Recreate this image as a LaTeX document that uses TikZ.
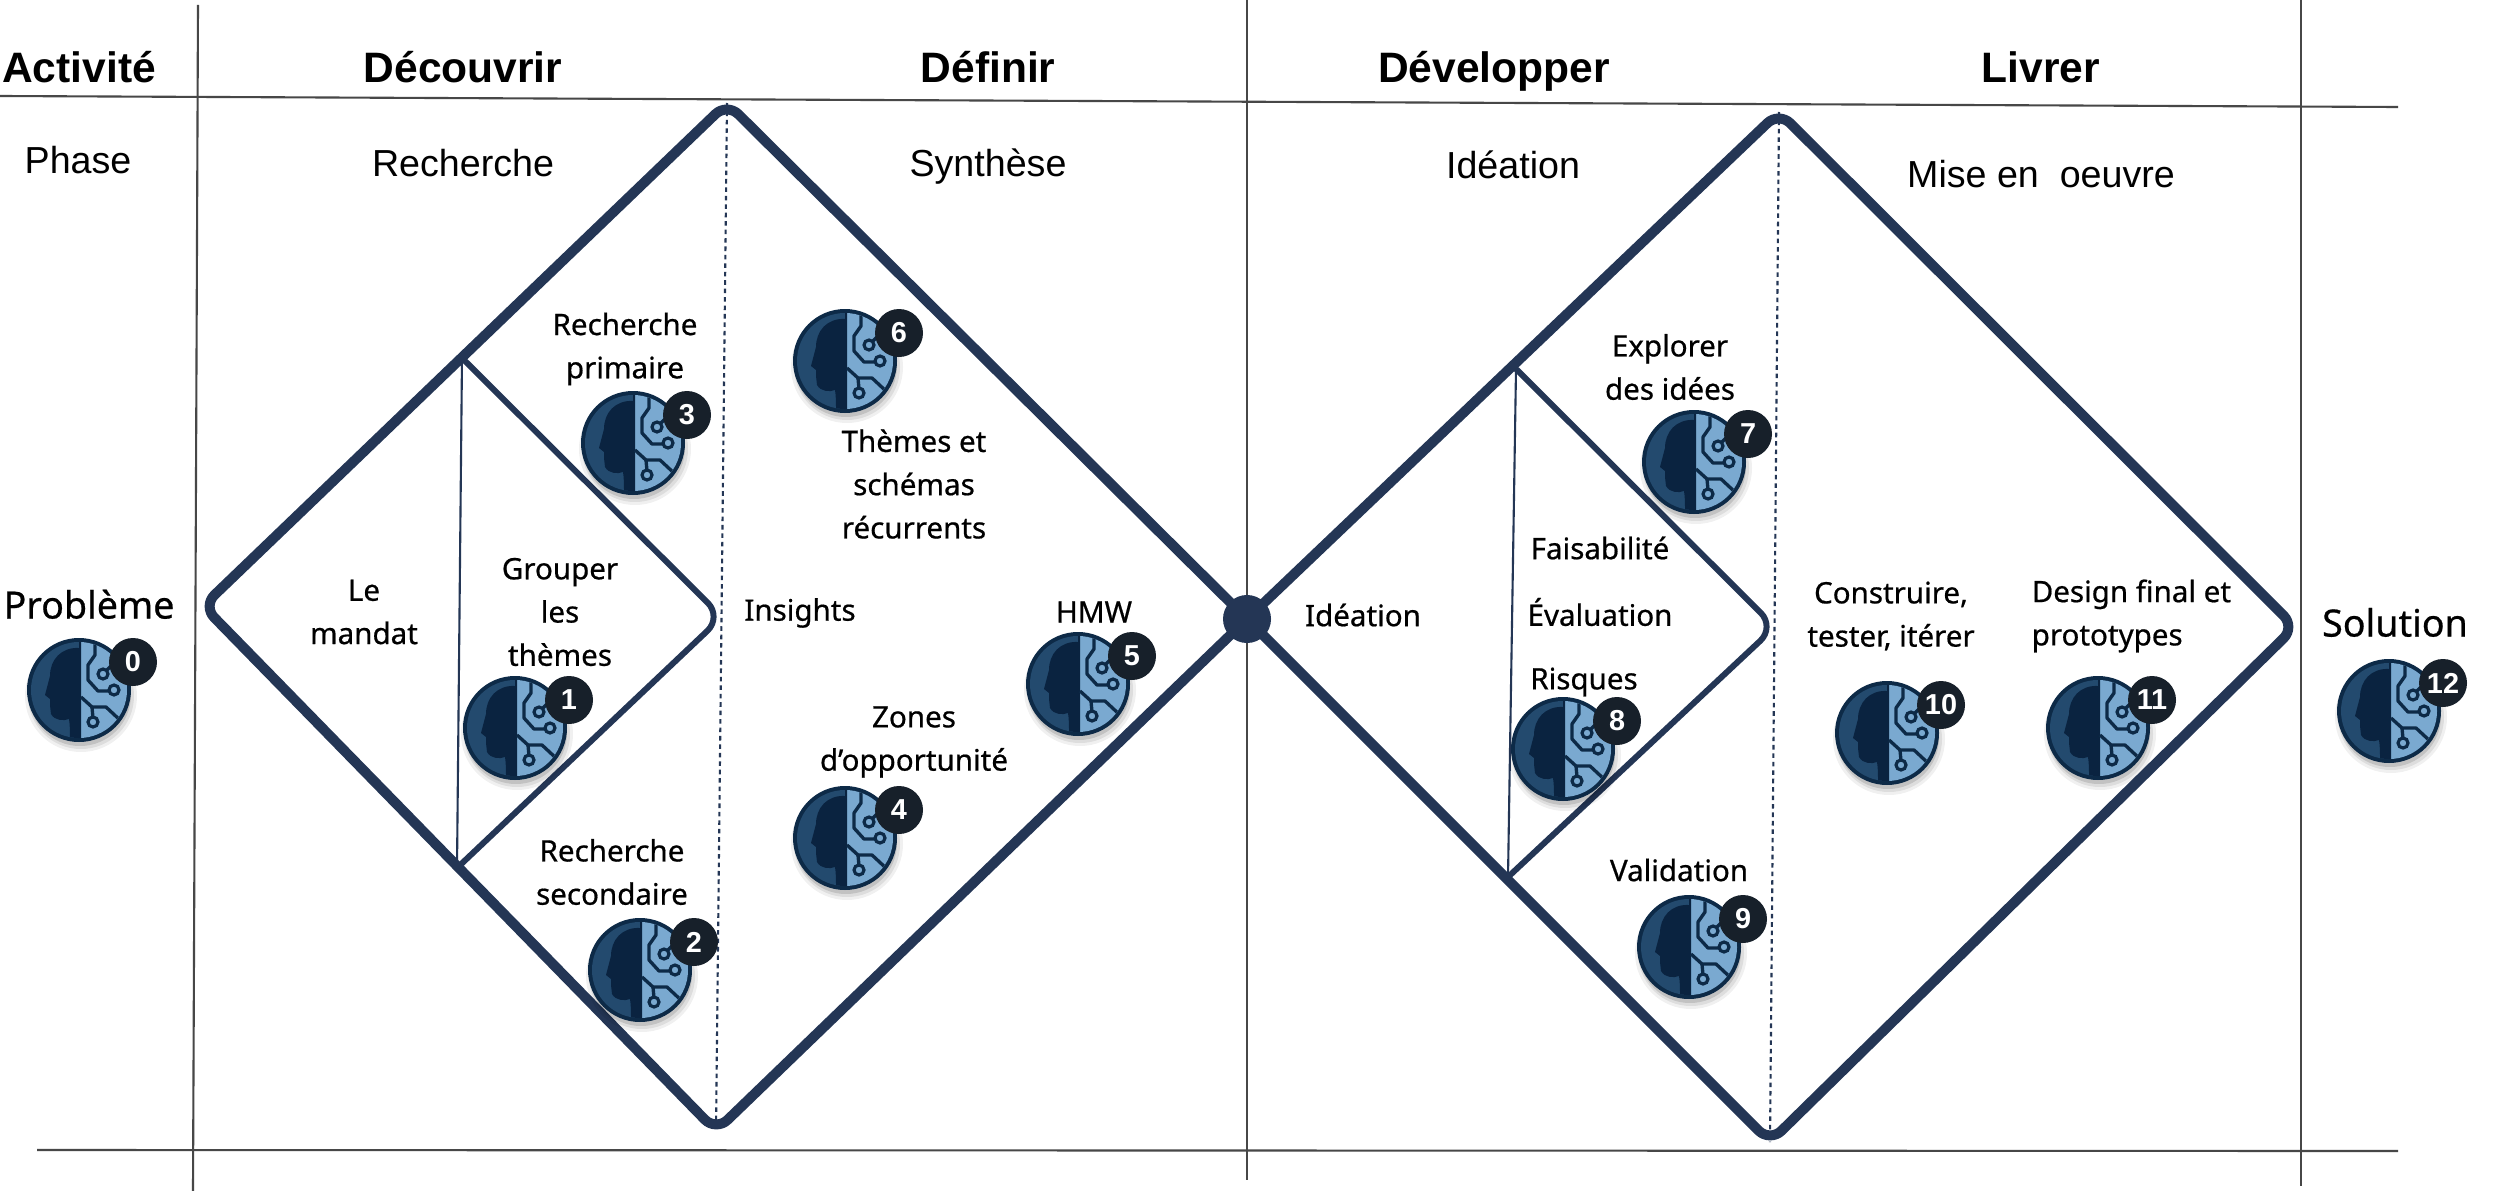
\documentclass[tikz,border=0pt]{standalone}
\usepackage{fontspec}
\setmainfont{Noto Sans}
\newfontfamily\medfont[FakeBold=0.6]{Noto Sans}
\newfontfamily\headfont{Liberation Sans}
\definecolor{navy}{HTML}{243655}
\definecolor{inkdark}{HTML}{0D2A47}
\definecolor{facedark}{HTML}{0A2340}
\definecolor{faceback}{HTML}{234A6E}
\definecolor{chip}{HTML}{7AA9D0}
\definecolor{badge}{HTML}{17202A}
\tikzset{
  x=0.01cm,y=-0.01cm,
  gridline/.style={draw=black!72,line width=0.6pt},
  outer/.style={draw=navy,line width=2.85pt,rounded corners=0.16cm,line join=round},
  inner/.style={draw=navy,line width=1.7pt,rounded corners=0.2cm,line join=round},
  thin line/.style={draw=navy,line width=0.6pt},
  dots/.style={draw=navy,line width=0.6pt,dash pattern=on 1.3pt off 1.1pt},
  head/.style={font=\headfont\fontsize{12.1}{14}\selectfont\bfseries,inner sep=0pt,text height=8.7pt,text depth=0pt},
  phase/.style={font=\headfont\fontsize{10.7}{12}\selectfont,inner sep=0pt,text height=7.5pt,text depth=0pt},
  big/.style={font=\medfont\fontsize{10.7}{12}\selectfont,inner sep=0pt,text height=7.7pt,text depth=0pt},
  body/.style={font=\medfont\fontsize{8.4}{12.3}\selectfont,inner sep=0pt,align=center},
  aiicon/.pic={
    \fill[black,opacity=.06] (2,6) circle [radius=56];
    \fill[black,opacity=.08] (2,6) circle [radius=53];
    \fill[black,opacity=.12] (1,5) circle [radius=51];
    \fill[inkdark] (0,0) circle [radius=52];
    \begin{scope}
      \clip (0,0) circle [radius=48];
      \fill[faceback] (-50,-50) rectangle (0,50);
      \fill[chip] (2,-50) rectangle (50,50);
      \fill[facedark] (0,-50) -- (0,-42) .. controls (-18,-43) and (-29,-30) .. (-29,-14)
        -- (-34,5) -- (-29,9) -- (-29,15) -- (-28,24) .. controls (-24,31) and (-15,31) .. (-10,29)
        .. controls (-9,35) and (-9,42) .. (-9,50) -- (2,50) -- (2,-50) -- cycle;
      \draw[inkdark,line width=.95pt,line join=round]
        (16,-48) -- (16,-35) -- (9,-25) -- (9,-10) -- (19,1) -- (31,1);
      \draw[inkdark,line width=.95pt] (24,-16) -- (34,-26);
      \draw[inkdark,line width=.95pt,line join=round]
        (2,7) -- (13,17) -- (27,17) -- (42,31);
      \draw[inkdark,line width=.95pt] (13,17) -- (14,28);
      \draw[inkdark,line width=.9pt,fill=chip] (35,0) circle [radius=5];
      \draw[inkdark,line width=.9pt,fill=chip] (24,-16) circle [radius=5];
      \draw[inkdark,line width=.9pt,fill=chip] (14,32) circle [radius=5];
    \end{scope}
    \fill[badge] (54,-28) circle [radius=24];
    \node[text=white,font=\headfont\fontsize{8.2}{9}\selectfont\bfseries,inner sep=0pt] at (54,-28) {#1};
  },
}
\begin{document}
\begin{tikzpicture}
\useasboundingbox (0,0) rectangle (2500,1191);
\fill[white] (0,0) rectangle (2500,1191);

% grid
\coordinate (v1t) at (198,5); \coordinate (v1b) at (193,1191);
\coordinate (v2t) at (1247,0); \coordinate (v2b) at (1247,1180);
\coordinate (v3t) at (2301,0); \coordinate (v3b) at (2301,1186);
\coordinate (h1l) at (0,96); \coordinate (h1r) at (2398,107);
\coordinate (h2l) at (37,1150); \coordinate (h2r) at (2398,1151);
\draw[gridline] (v1t) -- (v1b);
\draw[gridline] (v2t) -- (v2b);
\draw[gridline] (v3t) -- (v3b);
\draw[gridline] (h1l) -- (h1r);
\draw[gridline] (h2l) -- (h2r);

% diamonds
\coordinate (c) at (1247,619);
\coordinate (lt) at (727,103); \coordinate (lb) at (716,1131); \coordinate (ll) at (203,606);
\coordinate (it) at (462,358); \coordinate (ir) at (722,617); \coordinate (ib) at (457,868);
\coordinate (rt) at (1779,112); \coordinate (rr) at (2295,627); \coordinate (rb) at (1770,1142);
\coordinate (jt) at (1516,369); \coordinate (jr) at (1775,627); \coordinate (jb) at (1508,877);
\draw[dots] (lt) -- (lb);
\draw[dots] (rt) -- (rb);
\draw[thin line] (it) -- (ib);
\draw[thin line] (jt) -- (jb);
\draw[outer] (c) -- (lt) -- (ll) -- (lb) -- cycle;
\draw[outer] (c) -- (rt) -- (rr) -- (rb) -- cycle;
\draw[inner] (it) -- (ir) -- (ib);
\draw[inner] (jt) -- (jr) -- (jb);
\node[circle,fill=navy,minimum size=0.48cm,inner sep=0pt] (hub) at (c) {};

% headers
\node[head] (hA) at (79,67) {Activité};
\node[head] (hB) at (463,67) {Découvrir};
\node[head] (hC) at (988,67) {Définir};
\node[head] (hD) at (1494,67) {Développer};
\node[head] (hE) at (2041,67) {Livrer};
\node[phase] (pA) at (78,160) {Phase};
\node[phase] (pB) at (463,163) {Recherche};
\node[phase] (pC) at (988,163) {Synthèse};
\node[phase] (pD) at (1513,165) {Idéation};
\node[phase] (pE) at (2041,174) {Mise en \ oeuvre};
\node[big] (prob) at (89,605) {Problème};
\node[big] (sol) at (2395,623) {Solution};

% labels
\node[body] (t1) at (364,612) {Le\\mandat};
\node[body] (t2) at (560,612) {Grouper\\les\\thèmes};
\node[body] (t3) at (625,349) {Recherche\\primaire};
\node[body] (t4) at (612,872) {Recherche\\secondaire};
\node[body] (t5) at (800,613) {Insights};
\node[body] (t6) at (914,484) {Thèmes et\\schémas\\récurrents};
\node[body] (t7) at (1094,612) {HMW};
\node[body] (t8) at (914,742) {Zones\\d’opportunité};
\node[body] (t9) at (1363,615) {Idéation};
\node[body] (t10) at (1670,367) {Explorer\\des idées};
\node[body] (t11) at (1600,548) {Faisabilité};
\node[body] (t12) at (1600,612) {Évaluation};
\node[body] (t13) at (1584,682) {Risques};
\node[body] (t14) at (1679,870) {Validation};
\node[body] (t15) at (1891,616) {Construire,\\tester, itérer};
\node[body,anchor=west,align=left] (t16) at (2031,616) {Design final et\\prototypes};

% icons: position = icon centre
\pic at (79,690) {aiicon=0};
\pic at (515,728) {aiicon=1};
\pic at (640,970) {aiicon=2};
\pic at (633,443) {aiicon=3};
\pic at (845,838) {aiicon=4};
\pic at (1078,684) {aiicon=5};
\pic at (845,361) {aiicon=6};
\pic at (1694,462) {aiicon=7};
\pic at (1563,749) {aiicon=8};
\pic at (1689,947) {aiicon=9};
\pic at (1887,733) {aiicon=10};
\pic at (2098,728) {aiicon=11};
\pic at (2389,711) {aiicon=12};
\end{tikzpicture}
\end{document}
